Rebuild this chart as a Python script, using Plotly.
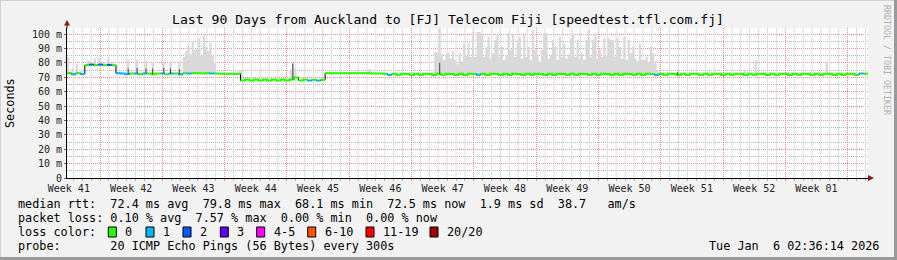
import plotly.graph_objects as go
from datetime import datetime, timedelta

# ---------------- data ----------------
TITLE = "Last 90 Days from Auckland to [FJ] Telecom Fiji [speedtest.tfl.com.fj]"
START = datetime(2025, 10, 9, 7, 0)
SPAN = timedelta(days=90)
MED_STEP = timedelta(hours=12)
SMOKE_STEP = timedelta(hours=6)

# median rtt (ms), one value per 12 h
median_ms = [
    72.8, 72.0, 72.8, 72.2,
    78.3, 78.8, 78.3, 78.8, 78.3, 78.6, 78.3,
    72.8, 72.6, 72.0, 72.6, 72.6, 72.0, 72.6, 72.6, 72.0, 72.6, 72.6, 72.0, 72.6, 72.6, 72.0,
    72.7, 72.6, 72.7, 72.7, 72.6, 72.7, 72.6, 72.6, 72.5, 72.5, 72.4, 72.4, 72.4,
    67.7, 68.4, 67.7, 68.4, 67.7, 68.4, 67.7, 68.4, 67.7, 68.4, 67.8, 68.4, 69.8, 67.7, 68.4, 67.7, 68.3, 67.7, 68.2,
    72.7, 72.7, 72.7, 72.7, 72.7, 72.7, 72.7, 72.7, 72.7, 72.7, 72.6, 72.6, 72.6, 72.5,
    71.6, 72.4, 71.7, 72.4, 72.3, 71.6, 72.4, 71.7, 72.4, 72.3, 71.6, 72.4, 71.7, 72.4,
    72.3, 71.6, 72.4, 71.6, 72.4, 72.3, 71.7, 72.4, 71.6, 72.4, 72.3, 71.6, 72.4, 71.7,
    72.4, 72.3, 71.6, 72.4, 71.7, 72.4, 72.3, 71.6, 72.4, 71.6, 72.4, 72.3, 71.7, 72.4,
    71.6, 72.4, 72.3, 71.6, 72.4, 71.7, 72.4, 72.3, 71.6, 72.4, 71.6, 72.4, 72.3, 71.7,
    72.4, 71.6, 72.4, 72.3, 71.6, 72.4, 71.7, 72.5, 72.3, 71.6, 72.5, 71.7, 72.5, 72.4,
    71.6, 72.5, 71.7, 72.5, 72.4, 71.6, 72.5, 71.7, 72.5, 72.4, 71.6, 72.5, 71.7, 72.5,
    72.4, 71.6, 72.5, 71.7, 72.5, 72.4, 71.6, 72.5, 71.7, 72.5, 72.4, 71.6, 72.5, 71.7,
    72.5, 72.4, 71.6, 72.5, 71.7, 72.5, 72.4, 71.6, 72.6, 72.5,
]

# lost pings per 12 h sample (only non-zero samples listed)
loss_idx = [1, 3, 5, 7, 9, 11, 12, 13, 15, 17, 21, 23, 25, 27, 32, 54, 56, 72, 92, 132, 178]
loss_cnt = [1, 1, 2, 2, 2, 1, 1, 1, 1, 1, 1, 1, 1, 1, 1, 1, 1, 1, 1, 1, 1]

# smoke (max rtt, ms) per 6 h sample
smoke_a_start = 52
smoke_a_top = [84, 88, 92, 86, 95, 89, 90, 97, 85, 100, 91, 88, 94, 85, 80]
smoke_b_start = 165
smoke_b_top = [
    87.7, 87, 104.5, 86, 82, 86, 87, 83, 88, 82, 79, 86.6, 81, 93.5, 85, 93.5, 84, 100.5, 84, 101.5,
    101.5, 99, 84, 91, 98, 83, 86.6, 95.8, 100.5, 84, 91.2, 82, 85, 100.5, 89, 100.5, 84, 95.8, 98, 83,
    99.3, 84, 91.2, 82, 102.8, 89, 84.5, 81, 89, 100.5, 100.5, 83, 85, 95.8, 91.2, 82, 98, 84, 93.5, 83,
    86, 97, 100.5, 84, 95.8, 83, 86.6, 82, 95.8, 102.8, 84, 95.8, 100.5, 83, 89, 84, 97, 85, 97, 95.8,
    95.8, 84, 97, 91.2, 83, 98, 82, 95.8, 86.6, 91.2, 83, 81, 93.5, 82, 82, 84.3, 80, 91.2, 86.6, 79.6,
    75,
]
smoke_spike_idx = [0, 2, 4, 6, 9, 12, 14, 16, 18, 20, 27, 31, 35, 38, 43, 46, 50,
                   77, 78, 100, 101, 102, 135, 136, 304, 309, 341]
smoke_spike_top = [84, 76, 79, 75, 82, 83, 83, 80, 83, 80, 82, 82, 81.5, 80, 81, 81, 81,
                   75, 75, 75, 79.6, 76, 75.5, 75.5, 75, 82, 81]

# dark smoke cores (6 h index, top ms)
dark_idx = [27, 31, 35, 38, 43, 46, 50, 101, 167, 274]
dark_top = [76, 76.5, 76, 76, 76.5, 76, 75.5, 79.6, 80, 73.8]

week_centres = ["2025-10-09 12:00", "2025-10-16 12:00", "2025-10-23 12:00", "2025-10-30 12:00",
                "2025-11-06 12:00", "2025-11-13 12:00", "2025-11-20 12:00", "2025-11-27 12:00",
                "2025-12-04 12:00", "2025-12-11 12:00", "2025-12-18 12:00", "2025-12-25 12:00",
                "2026-01-01 12:00"]
week_labels = ["Week 41", "Week 42", "Week 43", "Week 44", "Week 45", "Week 46", "Week 47",
               "Week 48", "Week 49", "Week 50", "Week 51", "Week 52", "Week 01"]
week_start = "2025-10-13"
first_midnight = datetime(2025, 10, 10)

y_ticks = [0, 10, 20, 30, 40, 50, 60, 70, 80, 90, 100]
y_tick_text = ["0", "10 m", "20 m", "30 m", "40 m", "50 m", "60 m", "70 m", "80 m", "90 m", "100 m"]
Y_MAX = 104.2

legend_labels = ["0", "1", "2", "3", "4-5", "6-10", "11-19", "20/20"]
legend_colors = ["#26ff00", "#00b8ff", "#0059ff", "#5e00ff", "#ff00ff", "#ff5500", "#ff0000", "#a10000"]

line_median = "median rtt:  72.4 ms avg  79.8 ms max  68.1 ms min  72.5 ms now  1.9 ms sd  38.7   am/s"
line_loss = "packet loss: 0.10 % avg  7.57 % max  0.00 % min  0.00 % now"
line_probe = "probe:       20 ICMP Echo Pings (56 Bytes) every 300s"
stamp = "Tue Jan  6 02:36:14 2026"

# ---------------- layout geometry ----------------
W, H = 897, 260
L, T, PW, PH = 67, 28, 801, 150
MONO = "DejaVu Sans Mono"
STEP_JUMP = 2.0  # ms; larger steps are drawn by the black line only
DAY_MS = 86400000
GRID_MAJ = "#f08c8c"
GRID_MIN = "#b4b4b4"
GRID_DAY = "#dcdcdc"


def px(x):
    return (x - L) / PW


def py(y):
    return (T + PH - y) / PH


def bucket(c):
    if c <= 3:
        return c
    if c <= 5:
        return 4
    if c <= 10:
        return 5
    if c <= 19:
        return 6
    return 7


# ---------------- build series ----------------
n_med = len(median_ms)
med_t = [START + k * MED_STEP for k in range(n_med + 1)]
loss = [0] * n_med
for k, c in zip(loss_idx, loss_cnt):
    loss[k] = c

n_sm = 2 * n_med
sm_t = [START + k * SMOKE_STEP for k in range(n_sm + 1)]
sm_base = [median_ms[k // 2] for k in range(n_sm)]
sm_top = list(sm_base)
for k, v in zip(smoke_spike_idx, smoke_spike_top):
    sm_top[k] = max(sm_top[k], v)
for off, v in enumerate(smoke_a_top):
    sm_top[smoke_a_start + off] = max(sm_top[smoke_a_start + off], v)
for off, v in enumerate(smoke_b_top):
    sm_top[smoke_b_start + off] = max(sm_top[smoke_b_start + off], v)
sm_base.append(sm_base[-1])
sm_top.append(sm_top[-1])

fig = go.Figure()

# daily grey grid (midnights that are not week starts)
gx, gy = [], []
d = first_midnight
while d < START + SPAN:
    if d.weekday() != 0:
        gx += [d, d, None]
        gy += [0, Y_MAX, None]
    d += timedelta(days=1)
fig.add_trace(go.Scatter(x=gx, y=gy, mode="lines", line=dict(width=1, color=GRID_DAY),
                         hoverinfo="skip", showlegend=False))

fig.add_trace(go.Scatter(x=sm_t, y=sm_base, mode="lines", line=dict(width=0, shape="hv"),
                         hoverinfo="skip", showlegend=False))
fig.add_trace(go.Scatter(x=sm_t, y=sm_top, mode="lines", line=dict(width=0, shape="hv"),
                         fill="tonexty", fillcolor="#d9d9d9", hoverinfo="skip", showlegend=False))

# black median (shows at the big steps)
fig.add_trace(go.Scatter(x=med_t, y=median_ms + [median_ms[-1]], mode="lines",
                         line=dict(width=1, color="#000000", shape="hv"),
                         hoverinfo="skip", showlegend=False))

# coloured median runs by loss bucket
for b, col in enumerate(legend_colors):
    xs, ys = [], []
    k = 0
    while k < n_med:
        if bucket(loss[k]) != b:
            k += 1
            continue
        s = k
        while (k + 1 < n_med and bucket(loss[k + 1]) == b
               and abs(median_ms[k + 1] - median_ms[k]) < STEP_JUMP):
            k += 1
        for m in range(s, k + 1):
            xs.append(med_t[m])
            ys.append(median_ms[m])
        xs += [med_t[k + 1], None]
        ys += [median_ms[k], None]
        k += 1
    if xs:
        fig.add_trace(go.Scatter(x=xs, y=ys, mode="lines", line=dict(width=2, color=col, shape="hv"),
                                 hoverinfo="skip", showlegend=False))

# dark smoke cores
dx, dy = [], []
for j, v in zip(dark_idx, dark_top):
    t = sm_t[j] + timedelta(hours=3)
    dx += [t, t, None]
    dy += [median_ms[j // 2], v, None]
fig.add_trace(go.Scatter(x=dx, y=dy, mode="lines", line=dict(width=1, color="#444444"),
                         xaxis="x3", hoverinfo="skip", showlegend=False))
# invisible anchor trace so that the week-grid axis is drawn
fig.add_trace(go.Scatter(x=[START], y=[0], mode="markers", marker=dict(size=0.1, opacity=0),
                         xaxis="x2", hoverinfo="skip", showlegend=False))

x_range = [START, START + SPAN]

fig.update_layout(
    width=W, height=H,
    margin=dict(l=L, r=W - L - PW, t=T, b=H - T - PH, pad=0),
    paper_bgcolor="#f2f2f2", plot_bgcolor="#ffffff",
    title=dict(text=TITLE, x=448 / W, xref="container", xanchor="center",
               y=1 - 19 / H, yref="container", yanchor="middle",
               font=dict(family=MONO, size=13.1, color="#000000")),
    xaxis=dict(type="date", range=x_range,
               tickmode="linear", tick0=week_start, dtick=DAY_MS,
               showticklabels=False, showgrid=False, ticks="outside", ticklen=2, tickcolor=GRID_MIN,
               zeroline=False, showline=True, linecolor="#000000", linewidth=1),
    # weekly red grid
    xaxis2=dict(type="date", range=x_range, overlaying="x", anchor="y", side="bottom",
                tickmode="linear", tick0=week_start, dtick=7 * DAY_MS,
                showticklabels=False, showgrid=True, gridcolor=GRID_MAJ, griddash="1px,1px",
                gridwidth=1, ticks="outside", ticklen=2, tickcolor=GRID_MAJ,
                zeroline=False, showline=False),
    # week labels
    xaxis3=dict(type="date", range=x_range, overlaying="x", anchor="y", side="bottom",
                tickmode="array", tickvals=week_centres, ticktext=week_labels,
                showgrid=False, zeroline=False, ticks="", showline=False, ticklabelstandoff=3,
                tickfont=dict(family=MONO, size=10, color="#222222")),
    yaxis=dict(range=[0, Y_MAX], tickmode="array", tickvals=y_ticks, ticktext=y_tick_text,
               showgrid=True, gridcolor=GRID_MAJ, griddash="1px,1px", zeroline=False,
               showline=True, linecolor="#000000", linewidth=1,
               ticks="outside", ticklen=2, tickcolor="#666666",
               minor=dict(dtick=5, showgrid=True, gridcolor=GRID_MIN, griddash="1px,1px"),
               tickfont=dict(family=MONO, size=10, color="#222222")),
    showlegend=False,
)

ann = []
txt_font = dict(family=MONO, size=11.8, color="#000000")
ann.append(dict(text="Seconds", x=px(10), y=py(103), xref="paper", yref="paper",
                textangle=-90, showarrow=False, xanchor="center", yanchor="middle", font=txt_font))
ann.append(dict(text="RRDTOOL / TOBI OETIKER", x=px(887), y=py(60), xref="paper", yref="paper",
                textangle=90, showarrow=False, xanchor="center", yanchor="middle",
                font=dict(family=MONO, size=8.3, color="#b0b0b0")))
for text, ypix in [(line_median, 204), (line_loss, 218), (line_probe, 246)]:
    ann.append(dict(text=text.replace(" ", "&nbsp;"), x=px(16), y=py(ypix), xref="paper", yref="paper",
                    showarrow=False, xanchor="left", yanchor="middle", font=txt_font))
ann.append(dict(text="loss&nbsp;color:", x=px(16), y=py(232), xref="paper", yref="paper",
                showarrow=False, xanchor="left", yanchor="middle", font=txt_font))
ann.append(dict(text=stamp.replace(" ", "&nbsp;"), x=px(881), y=py(246), xref="paper", yref="paper",
                showarrow=False, xanchor="right", yanchor="middle", font=txt_font))

legend_text_x = [123.3, 161, 198, 235.3, 271.7, 322.7, 381, 445]
shapes = []
for lab, col, tx in zip(legend_labels, legend_colors, legend_text_x):
    ann.append(dict(text=lab, x=px(tx), y=py(232), xref="paper", yref="paper",
                    showarrow=False, xanchor="left", yanchor="middle", font=txt_font))
    bx = tx - 15
    shapes.append(dict(type="rect", xref="paper", yref="paper", x0=px(bx), x1=px(bx + 8),
                       y0=py(237), y1=py(227), fillcolor=col, line=dict(color="#000000", width=1)))

# axis arrows
shapes.append(dict(type="line", xref="paper", yref="paper", x0=px(67), x1=px(67), y0=py(28), y1=py(24),
                   line=dict(color="#000000", width=1)))
shapes.append(dict(type="path", xref="paper", yref="paper",
                   path=f"M {px(64)} {py(25.5)} L {px(70)} {py(25.5)} L {px(67)} {py(20)} Z",
                   fillcolor="#8b1a1a", line=dict(width=0)))
shapes.append(dict(type="line", xref="paper", yref="paper", x0=px(868), x1=px(870), y0=py(178), y1=py(178),
                   line=dict(color="#000000", width=1)))
shapes.append(dict(type="path", xref="paper", yref="paper",
                   path=f"M {px(868)} {py(175)} L {px(868)} {py(181)} L {px(874)} {py(178)} Z",
                   fillcolor="#8b1a1a", line=dict(width=0)))
# outer frame
shapes.append(dict(type="line", xref="paper", yref="paper", x0=px(0.5), x1=px(0.5), y0=py(0), y1=py(260),
                   line=dict(color="#d0d0d0", width=1)))
shapes.append(dict(type="line", xref="paper", yref="paper", x0=px(0), x1=px(897), y0=py(0.5), y1=py(0.5),
                   line=dict(color="#d0d0d0", width=1)))
shapes.append(dict(type="line", xref="paper", yref="paper", x0=px(895.5), x1=px(895.5), y0=py(0), y1=py(260),
                   line=dict(color="#9a9a9a", width=3)))
shapes.append(dict(type="line", xref="paper", yref="paper", x0=px(0), x1=px(897), y0=py(258.5), y1=py(258.5),
                   line=dict(color="#9a9a9a", width=3)))

fig.update_layout(annotations=ann, shapes=shapes)
fig.write_html("out.html")
